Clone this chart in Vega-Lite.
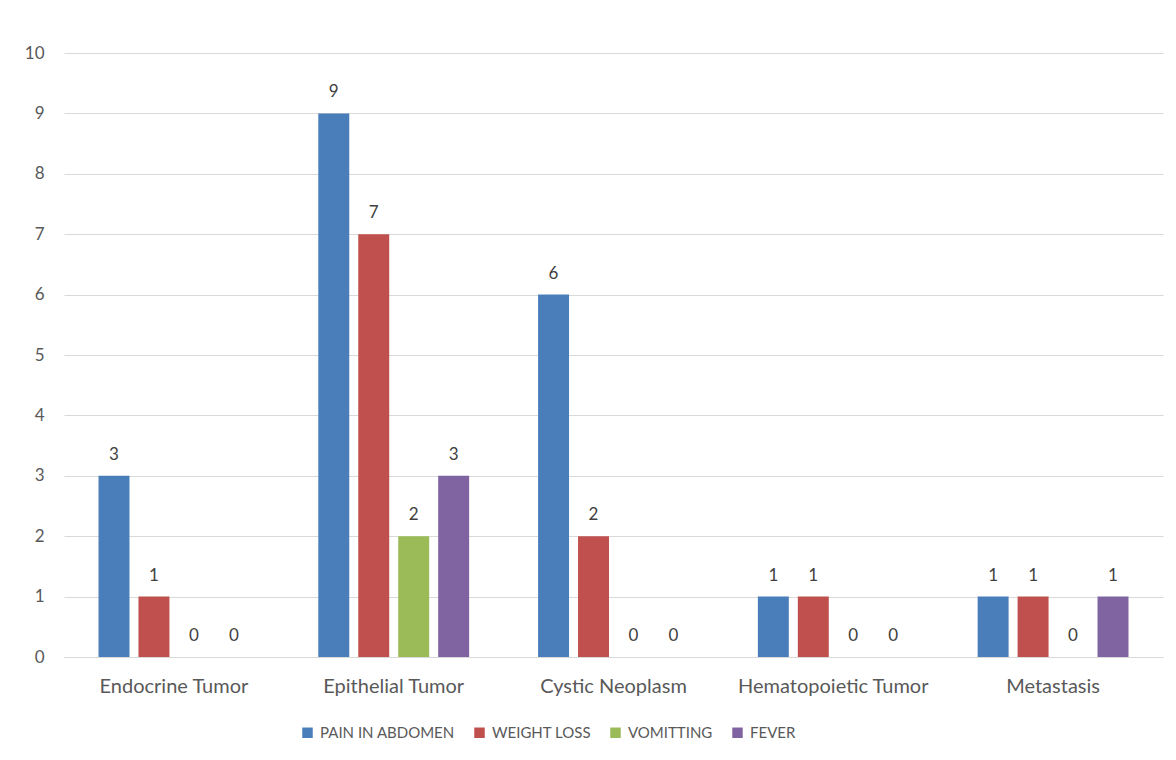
{
  "$schema": "https://vega.github.io/schema/vega-lite/v6.json",
  "autosize": "none",
  "width": 1099,
  "height": 604,
  "padding": {"left": 64, "top": 53, "right": 13, "bottom": 103},
  "background": "white",
  "config": {
    "font": "Lato",
    "view": {"stroke": null},
    "axis": {"labelFont": "Lato", "labelColor": "#595959", "labelFontSize": 17, "titleFontSize": 0},
    "legend": {"labelFont": "Lato", "labelColor": "#595959", "labelFontSize": 15}
  },
  "data": {
    "values": [
      {"category": "Endocrine Tumor", "symptom": "PAIN IN ABDOMEN", "value": 3},
      {"category": "Endocrine Tumor", "symptom": "WEIGHT LOSS", "value": 1},
      {"category": "Endocrine Tumor", "symptom": "VOMITTING", "value": 0},
      {"category": "Endocrine Tumor", "symptom": "FEVER", "value": 0},
      {"category": "Epithelial Tumor", "symptom": "PAIN IN ABDOMEN", "value": 9},
      {"category": "Epithelial Tumor", "symptom": "WEIGHT LOSS", "value": 7},
      {"category": "Epithelial Tumor", "symptom": "VOMITTING", "value": 2},
      {"category": "Epithelial Tumor", "symptom": "FEVER", "value": 3},
      {"category": "Cystic Neoplasm", "symptom": "PAIN IN ABDOMEN", "value": 6},
      {"category": "Cystic Neoplasm", "symptom": "WEIGHT LOSS", "value": 2},
      {"category": "Cystic Neoplasm", "symptom": "VOMITTING", "value": 0},
      {"category": "Cystic Neoplasm", "symptom": "FEVER", "value": 0},
      {"category": "Hematopoietic Tumor", "symptom": "PAIN IN ABDOMEN", "value": 1},
      {"category": "Hematopoietic Tumor", "symptom": "WEIGHT LOSS", "value": 1},
      {"category": "Hematopoietic Tumor", "symptom": "VOMITTING", "value": 0},
      {"category": "Hematopoietic Tumor", "symptom": "FEVER", "value": 0},
      {"category": "Metastasis", "symptom": "PAIN IN ABDOMEN", "value": 1},
      {"category": "Metastasis", "symptom": "WEIGHT LOSS", "value": 1},
      {"category": "Metastasis", "symptom": "VOMITTING", "value": 0},
      {"category": "Metastasis", "symptom": "FEVER", "value": 1}
    ]
  },
  "encoding": {
    "x": {
      "field": "category", "type": "nominal", "sort": null, "title": null,
      "scale": {"paddingInner": 0.3136, "paddingOuter": 0.157},
      "axis": {"labelAngle": 0, "labelPadding": 19, "labelFontSize": 20, "labelLimit": 0, "ticks": false, "domainColor": "#d9d9d9", "domainWidth": 1, "grid": false}
    },
    "xOffset": {
      "field": "symptom", "type": "nominal",
      "sort": ["PAIN IN ABDOMEN", "WEIGHT LOSS", "VOMITTING", "FEVER"],
      "scale": {"paddingInner": 0.225, "paddingOuter": 0}
    },
    "y": {
      "field": "value", "type": "quantitative", "title": null,
      "scale": {"domain": [0, 10], "nice": false},
      "axis": {"values": [0,1,2,3,4,5,6,7,8,9,10], "labelOverlap": false, "domain": false, "ticks": false, "labelPadding": 20, "gridColor": "#d9d9d9", "gridWidth": 1, "labelFontSize": 17}
    }
  },
  "layer": [
    {
      "mark": {"type": "bar", "strokeWidth": 1},
      "encoding": {
        "color": {
          "field": "symptom", "type": "nominal", "title": null,
          "sort": ["PAIN IN ABDOMEN", "WEIGHT LOSS", "VOMITTING", "FEVER"],
          "scale": {"domain": ["PAIN IN ABDOMEN", "WEIGHT LOSS", "VOMITTING", "FEVER"], "range": ["#4A7EBB", "#C0504D", "#9BBB59", "#8064A2"]},
          "legend": {"orient": "none", "legendX": 236, "legendY": 672, "direction": "horizontal", "symbolType": "square", "symbolSize": 110, "symbolStrokeWidth": 0, "columnPadding": 17, "labelOffset": 5}
        }
      }
    },
    {
      "mark": {"type": "text", "baseline": "alphabetic", "dy": -16, "fontSize": 17, "color": "#404040", "font": "Lato"},
      "encoding": {"text": {"field": "value", "type": "quantitative"}}
    }
  ]
}
